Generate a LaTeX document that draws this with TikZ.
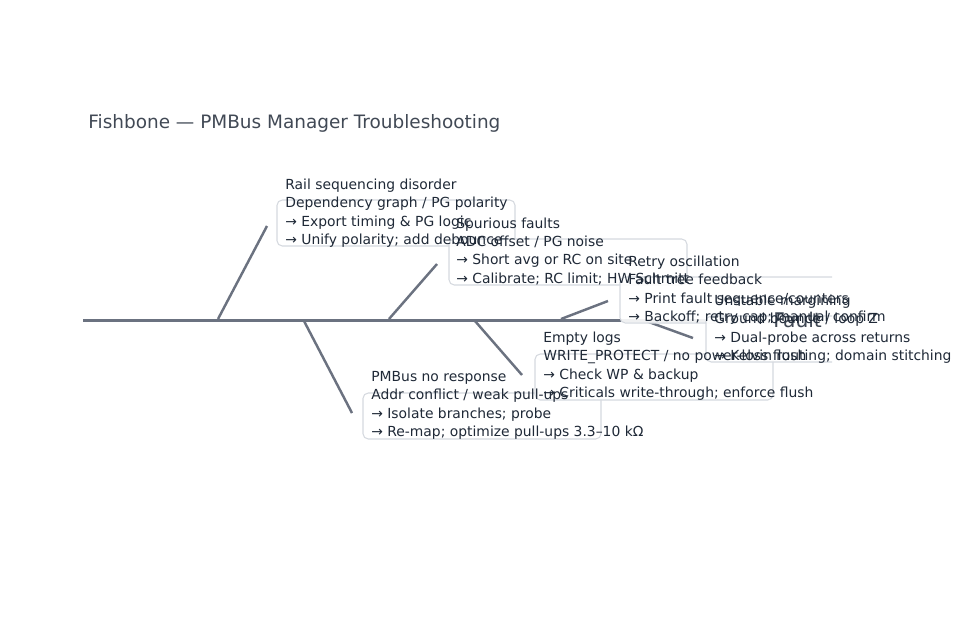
\documentclass[tikz,border=0pt]{standalone}
\usepackage{fontspec}
\setmainfont{DejaVu Sans}
\usepackage{xcolor}
\usepackage{tikz}
\usetikzlibrary{positioning}

\definecolor{bone}{HTML}{6B7280}
\definecolor{ink}{HTML}{1F2937}
\definecolor{rim}{HTML}{D5D9DF}

\tikzset{
  spine/.style={draw=bone, line width=1.7pt},
  rib/.style={draw=bone, line width=1.4pt},
  causebox/.style={draw=rim, fill=white, fill opacity=0.9, rounded corners=3pt, line width=0.6pt},
  cause/.style={anchor=base west, inner sep=0pt, align=left, text=ink,
    font=\fontsize{7.9}{10.45}\selectfont},
}

\begin{document}
\begin{tikzpicture}[x=0.02cm, y=-0.02cm]
\useasboundingbox (0,0) rectangle (960,640);
\node[anchor=base west, inner sep=0pt, text=ink!85, font=\fontsize{10.5}{12}\selectfont] (title) at (88,128.5) {Fishbone — PMBus Manager Troubleshooting};
% spine and head
\coordinate (tail) at (83,320);
\coordinate (head) at (770,320);
\draw[spine] (tail) -- (head);
% ribs: top row leans right, bottom row leans right too
\foreach \n/\sx/\ex/\ey in {r1/218/267/226, r2/389/437/264, r3/561/608/301} {
  \coordinate (\n a) at (\sx,319);
  \coordinate (\n b) at (\ex,\ey);
  \draw[rib] (\n a) -- (\n b);
}
\foreach \n/\sx/\ex/\ey in {r4/304/352/413, r5/475/522/375, r6/646/693/338} {
  \coordinate (\n a) at (\sx,321);
  \coordinate (\n b) at (\ex,\ey);
  \draw[rib] (\n a) -- (\n b);
}
% boxes (plot area stops at x=832)
\begin{scope}
\clip (0,0) rectangle (832,640);
\foreach \bx/\by in {277/200, 449/239, 620/277, 363/393, 535/354, 706/316}
  \draw[causebox] (\bx,\by) rectangle +(238,46);
\end{scope}
\node[anchor=west, inner sep=0pt, text=ink!85, font=\fontsize{11.5}{13}\selectfont] (fault) at (773,320) {Fault};
% cause texts (anchored at the baseline of the last line)
\node[cause] (rail) at (285,244.7) {Rail sequencing disorder\\Dependency graph / PG polarity\\→ Export timing \& PG logic\\→ Unify polarity; add debounce};
\node[cause] (spur) at (456,283.2) {Spurious faults\\ADC offset / PG noise\\→ Short avg or RC on site\\→ Calibrate; RC limit; HW Schmitt};
\node[cause] (retry) at (628,321.7) {Retry oscillation\\Fault tree feedback\\→ Print fault sequence/counters\\→ Backoff; retry cap; manual confirm};
\node[cause] (pmbus) at (371,436.7) {PMBus no response\\Addr conflict / weak pull-ups\\→ Isolate branches; probe\\→ Re-map; optimize pull-ups 3.3–10 kΩ};
\node[cause] (logs) at (543,397.7) {Empty logs\\WRITE\_PROTECT / no power-loss flush\\→ Check WP \& backup\\→ Criticals write-through; enforce flush};
\node[cause] (margin) at (714,360.7) {Unstable margining\\Ground bounce / loop Z\\→ Dual-probe across returns\\→ Kelvin routing; domain stitching};
\end{tikzpicture}
\end{document}
